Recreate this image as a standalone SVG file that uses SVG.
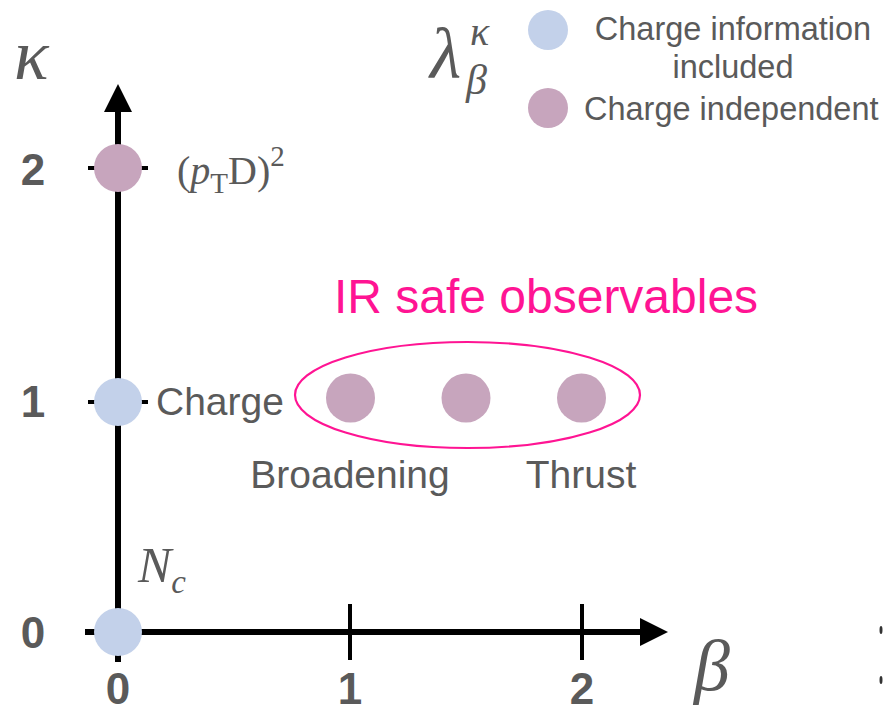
<svg xmlns="http://www.w3.org/2000/svg" width="890" height="713" viewBox="0 0 890 713">
<style>
.ax{stroke:#000;stroke-width:6;fill:none}
.tk{stroke:#000;stroke-width:4;fill:none}
.num{font-family:"Liberation Sans",Arial,sans-serif;font-weight:bold;font-size:44px;fill:#5a5a5a;text-anchor:middle}
.lbl{font-family:"Liberation Sans",Arial,sans-serif;font-size:39px;fill:#5a5a5a}
.leg{font-family:"Liberation Sans",Arial,sans-serif;font-size:32.5px;fill:#5a5a5a}
.math{font-family:"Liberation Serif","Times New Roman",serif;fill:#5a5a5a}
.blue{fill:#c3d1ea}
.pur{fill:#c7a5bd}
</style>
<rect width="890" height="713" fill="#fff"/>
<g id="connectors">
<line class="ax" x1="118" y1="662" x2="118" y2="105"/>
<polygon points="118,84 104,112 132,112" fill="#000"/>
<line class="ax" x1="85" y1="632" x2="645" y2="632"/>
<polygon points="668,632 640,618 640,646" fill="#000"/>
<line class="tk" x1="350" y1="604" x2="350" y2="660"/>
<line class="tk" x1="582" y1="604" x2="582" y2="660"/>
<line class="tk" x1="88" y1="168" x2="148" y2="168"/>
<line class="tk" x1="88" y1="402" x2="148" y2="402"/>
</g>
<g id="axis-labels">
<text class="math" x="14" y="79" font-size="72" font-style="italic">κ</text>
<text class="math" x="694" y="690" font-size="72" font-style="italic">β</text>
<text class="num" x="33" y="185">2</text>
<text class="num" x="33" y="417">1</text>
<text class="num" x="33" y="648">0</text>
<text class="num" x="118" y="704">0</text>
<text class="num" x="350" y="704">1</text>
<text class="num" x="582" y="704">2</text>
</g>
<g id="node-ptd">
<circle class="pur" cx="118" cy="168" r="24"/>
<text class="math" x="177" y="184" font-size="40">(<tspan font-style="italic">p</tspan><tspan font-size="29" dy="9">T</tspan><tspan dy="-9">D)</tspan><tspan font-size="29" dy="-18">2</tspan></text>
</g>
<g id="node-charge">
<circle class="blue" cx="118" cy="402" r="24"/>
<text class="lbl" x="156" y="415">Charge</text>
</g>
<g id="node-nc">
<circle class="blue" cx="118" cy="632" r="24"/>
<text class="math" x="138" y="582" font-size="50" font-style="italic">N<tspan font-size="33" dy="11">c</tspan></text>
</g>
<g id="ir-safe">
<ellipse cx="467.5" cy="395" rx="172.5" ry="53" fill="none" stroke="#ff1493" stroke-width="2.2"/>
<text x="546" y="313" font-family="'Liberation Sans',Arial,sans-serif" font-size="48" fill="#ff1493" text-anchor="middle">IR safe observables</text>
</g>
<g id="node-broadening">
<circle class="pur" cx="350.5" cy="398" r="24.5"/>
<text class="lbl" x="350" y="488" text-anchor="middle">Broadening</text>
</g>
<g id="node-mid">
<circle class="pur" cx="466" cy="398" r="24.5"/>
</g>
<g id="node-thrust">
<circle class="pur" cx="581.5" cy="398" r="24.5"/>
<text class="lbl" x="581" y="488" text-anchor="middle">Thrust</text>
</g>
<g id="legend">
<text class="math" x="430" y="78" font-size="72" font-style="italic">λ</text>
<text class="math" x="470" y="45" font-size="40" font-style="italic">κ</text>
<text class="math" x="466" y="94" font-size="42" font-style="italic">β</text>
<circle class="blue" cx="548" cy="30" r="20"/>
<text class="leg" x="733" y="40" text-anchor="middle">Charge information</text>
<text class="leg" x="733" y="78" text-anchor="middle">included</text>
<circle class="pur" cx="548" cy="108" r="20"/>
<text class="leg" x="584" y="120">Charge independent</text>
</g>
<g id="edge-marks">
<ellipse cx="881" cy="630" rx="1.5" ry="4" fill="#333"/>
<ellipse cx="881" cy="680" rx="1.5" ry="4" fill="#333"/>
</g>
</svg>
